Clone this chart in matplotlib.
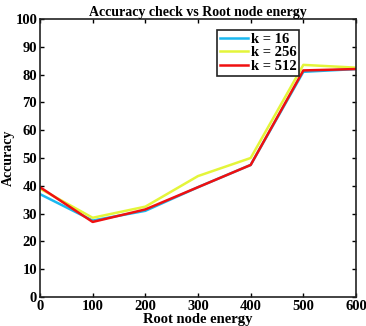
import matplotlib
matplotlib.use("Agg")
import matplotlib.pyplot as plt

energy = [0, 100, 200, 300, 400, 500, 600]
acc_k16 = [37, 27.5, 31, 39.5, 47.5, 81, 82]
acc_k256 = [39, 28.5, 32.5, 43.5, 50, 83.5, 82.5]
acc_k512 = [39.5, 27, 31.5, 39.5, 47.5, 81.5, 82]

plt.rcParams["font.family"] = ["Liberation Serif", "DejaVu Serif"]
plt.rcParams["font.weight"] = "bold"

fig = plt.figure(figsize=(3.66, 3.26), dpi=100)
ax = fig.add_axes([40 / 366, 29 / 326, 316 / 366, 278 / 326])

ax.plot(energy, acc_k16, color="#1ab8f0", linewidth=1.8, label="k = 16")
ax.plot(energy, acc_k256, color="#e4f53a", linewidth=1.8, label="k = 256")
ax.plot(energy, acc_k512, color="#f01010", linewidth=1.8, label="k = 512")

ax.set_xlim(0, 600)
ax.set_ylim(0, 100)
ax.set_xticks(range(0, 601, 100))
ax.set_yticks(range(0, 101, 10))
ax.tick_params(direction="in", top=True, right=True, length=3, width=1,
               labelsize=10.5, pad=2)
for lbl in ax.get_xticklabels() + ax.get_yticklabels():
    lbl.set_fontweight("bold")
for sp in ax.spines.values():
    sp.set_linewidth(1.2)
    sp.set_color("#222222")

ax.set_xlabel("Root node energy", fontsize=10.5, fontweight="bold", labelpad=0)
ax.set_ylabel("Accuracy", fontsize=10, fontweight="bold", labelpad=0)
ax.set_title("Accuracy check vs Root node energy", fontsize=10,
             fontweight="bold", pad=2)

leg = ax.legend(loc="upper left", bbox_to_anchor=(0.56, 0.96), fontsize=10.5,
                handlelength=1.9, handletextpad=0.2, borderpad=0.2,
                labelspacing=0.0, fancybox=False, framealpha=1,
                edgecolor="#222222", borderaxespad=0)
leg.get_frame().set_linewidth(1.2)
for t in leg.get_texts():
    t.set_fontweight("bold")

fig.savefig("out.png", dpi=100)
